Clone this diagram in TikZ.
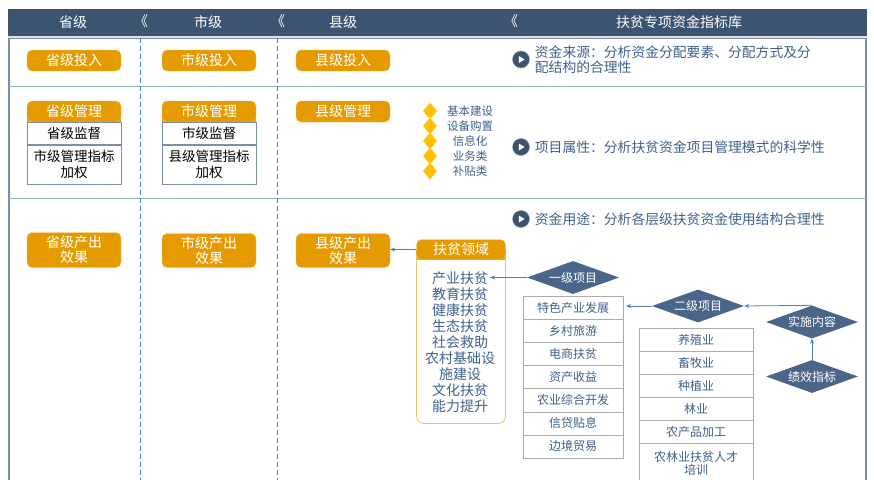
\documentclass[tikz,border=0pt]{standalone}
\usepackage{fontspec}
\setmainfont{Noto Sans CJK SC}
\usetikzlibrary{shapes.geometric,arrows.meta,positioning,calc,backgrounds}
\definecolor{headblue}{HTML}{3D5470}
\definecolor{boxorange}{HTML}{E59B00}
\definecolor{lineblue}{HTML}{8AB0D4}
\definecolor{dashblue}{HTML}{3E84C4}
\definecolor{textblue}{HTML}{3F618C}
\definecolor{dmdblue}{HTML}{4B6689}
\definecolor{framegray}{HTML}{7D8FA8}
\definecolor{cellgray}{HTML}{ABABAB}
\definecolor{arrowblue}{HTML}{4A7DB4}
\definecolor{tagyellow}{HTML}{FFC000}
\tikzset{
     headtext/.style = { white, font=\fontsize{14}{16}\selectfont },
    orangebox/.style = { fill=boxorange, draw=boxorange!55!white, rounded corners=5pt, text=white,
                         minimum width=94pt, minimum height=21pt, align=center, inner sep=1pt,
                         font=\fontsize{14}{15}\selectfont },
      subcell/.style = { draw=framegray, fill=white, minimum width=94pt, align=center, inner sep=1pt,
                         font=\fontsize{13.5}{15.5}\selectfont },
     listcell/.style = { draw=cellgray, fill=white, text=textblue, minimum height=23.14pt, inner sep=1pt,
                         align=center, font=\fontsize{12}{13.5}\selectfont },
       bigdmd/.style = { diamond, aspect=2.8, fill=dmdblue, text=white, inner sep=0pt,
                         minimum width=92pt, minimum height=33pt, font=\fontsize{12}{14}\selectfont },
       tagdmd/.style = { diamond, fill=tagyellow, draw=tagyellow!55!white, inner sep=0pt,
                         minimum width=14pt, minimum height=17pt },
      tagtext/.style = { text=textblue, font=\fontsize{11.5}{13}\selectfont },
       lyitem/.style = { text=textblue, inner sep=2pt, font=\fontsize{14}{16}\selectfont },
       lybody/.style = { draw=boxorange!60!white, line width=0.8pt, rounded corners=7pt,
                         minimum width=89pt },
       bullet/.style = { circle, fill=headblue, draw=headblue!60!white, minimum size=17pt, inner sep=0pt,
                         path picture={\fill[white] ($(path picture bounding box.center)+(-2.2pt,-3.5pt)$)
                         -- ++(0pt,7pt) -- ++(5.8pt,-3.5pt) -- cycle;} },
     infotext/.style = { text=textblue, align=left, anchor=west, inner sep=0pt,
                         font=\fontsize{13.8}{15}\selectfont },
          arr/.style = { arrowblue, line width=0.8pt, -{Stealth[length=5pt,width=4pt]} },
      rowline/.style = { lineblue, line width=1pt },
      colline/.style = { dashblue, line width=0.9pt, dash pattern=on 5pt off 3pt }
}

\begin{document}
\begin{tikzpicture}[x=1pt, y=-1pt]
  \useasboundingbox (0,0) rectangle (874,479);

  % header and frame
  \fill[headblue] (8,9) rectangle (867,36);
  \fill[gray!25] (8,36) rectangle (867,37.5);
  \draw[framegray, line width=1pt] (9,38) -- (866,38);
  \draw[framegray, line width=2pt] (9,38) -- (9,485);
  \draw[framegray, line width=1.5pt] (866,38) -- (866,485);
  \draw[rowline] (9,86) -- (866,86);
  \draw[rowline] (9,198) -- (866,198);
  \draw[colline] (140,38) -- (140,485);
  \draw[colline] (277,38) -- (277,485);

  \node[headtext] (hSheng) at (73,22.5) {省级};
  \node[headtext] (hShi)   at (208,22.5) {市级};
  \node[headtext] (hXian)  at (343,22.5) {县级};
  \node[headtext] (hLib)   at (679,22.5) {扶贫专项资金指标库};
  \foreach \x in {141,278,511}
    \node[headtext] at (\x,21) {《};

  % row 1: input
  \node[orangebox] (sIn) at (74,60.5) {省级投入};
  \node[orangebox] (cIn) at (209,60.5) {市级投入};
  \node[orangebox] (xIn) at (343,60.5) {县级投入};

  % row 2: management
  \node[orangebox] (sMg) at (74,111.5) {省级管理};
  \node[subcell, minimum height=22pt, anchor=north] (sSup) at (sMg.south) {省级监督};
  \node[subcell, minimum height=39pt, anchor=north] (sWt) at (sSup.south) {市级管理指标\\加权};

  \node[orangebox] (cMg) at (209,111.5) {市级管理};
  \node[subcell, minimum height=22pt, anchor=north] (cSup) at (cMg.south) {市级监督};
  \node[subcell, minimum height=39pt, anchor=north] (cWt) at (cSup.south) {县级管理指标\\加权};

  \node[orangebox] (xMg) at (343,111.5) {县级管理};

  \foreach \t [count=\i] in {基本建设,设备购置,信息化,业务类,补贴类} {
    \node[tagdmd] (tag\i) at (430,96+15*\i) {};
    \node[tagtext] (tagt\i) at (470,96+15*\i) {\t};
  }

  % row 3: output
  \node[orangebox, minimum height=35pt] (sOut) at (74,250) {省级产出\\效果};
  \node[orangebox, minimum height=34pt] (cOut) at (209,250.5) {市级产出\\效果};
  \node[orangebox, minimum height=34pt] (xOut) at (343,250.5) {县级产出\\效果};

  % notes on the right
  \node[bullet] (b1) at (521,59.5) {};
  \node[infotext, right=5pt of b1] (n1) {资金来源：分析资金分配要素、分配方式及分\\配结构的合理性};
  \node[bullet] (b2) at (521,147) {};
  \node[infotext, right=5pt of b2] (n2) {项目属性：分析扶贫资金项目管理模式的科学性};
  \node[bullet] (b3) at (521,219) {};
  \node[infotext, right=5pt of b3] (n3) {资金用途：分析各层级扶贫资金使用结构合理性};

  % poverty areas
  \node[lybody, minimum height=174pt, anchor=north] (lyBody) at (461,249) {};
  \node[orangebox, minimum width=89pt, minimum height=20pt] (lyHdr) at (461,249.5) {扶贫领域};
  \foreach \t [count=\i] in {产业扶贫,教育扶贫,健康扶贫,生态扶贫,社会救助,农村基础设,施建设,文化扶贫,能力提升}
    \node[lyitem] (ly\i) at (460,262+16*\i) {\t};

  % square off the bottoms of the orange headers
  \begin{scope}[on background layer]
    \foreach \h in {sMg,cMg,lyHdr}
      \fill[boxorange] (\h.west) rectangle (\h.south east);
  \end{scope}

  % first level projects
  \node[bigdmd] (lvOne) at (573,277.5) {一级项目};
  \foreach \t [count=\i] in {特色产业发展,乡村旅游,电商扶贫,资产收益,农业综合开发,信贷贴息,边境贸易}
    \node[listcell, minimum width=100pt] (one\i) at (573,284.43+23.14*\i) {\t};

  % second level projects
  \node[bigdmd] (lvTwo) at (698,306) {二级项目};
  \foreach \t [count=\i] in {养殖业,畜牧业,种植业,林业,农产品加工}
    \node[listcell, minimum width=114pt, minimum height=23pt] (two\i) at (696,316.5+23*\i) {\t};
  \node[listcell, minimum width=114pt, minimum height=40pt, anchor=north] (two6) at (two5.south) {农林业扶贫人才\\培训};

  % implementation and indicators
  \node[bigdmd] (impl) at (812,322) {实施内容};
  \node[bigdmd] (perf) at (812,376.5) {绩效指标};

  % connectors
  \draw[arr] (lyHdr.west) -- (xOut.east |- lyHdr.west);
  \draw[arr] (lvOne.west) -- (ly1.east |- lvOne.west);
  \draw[arr] (lvTwo.west) -- ([xshift=3pt]one1.east |- lvTwo.west);
  \draw[arr] (impl.north) -- (lvTwo.east);
  \draw[arr] (perf.north) -- (impl.south);
\end{tikzpicture}
\end{document}
